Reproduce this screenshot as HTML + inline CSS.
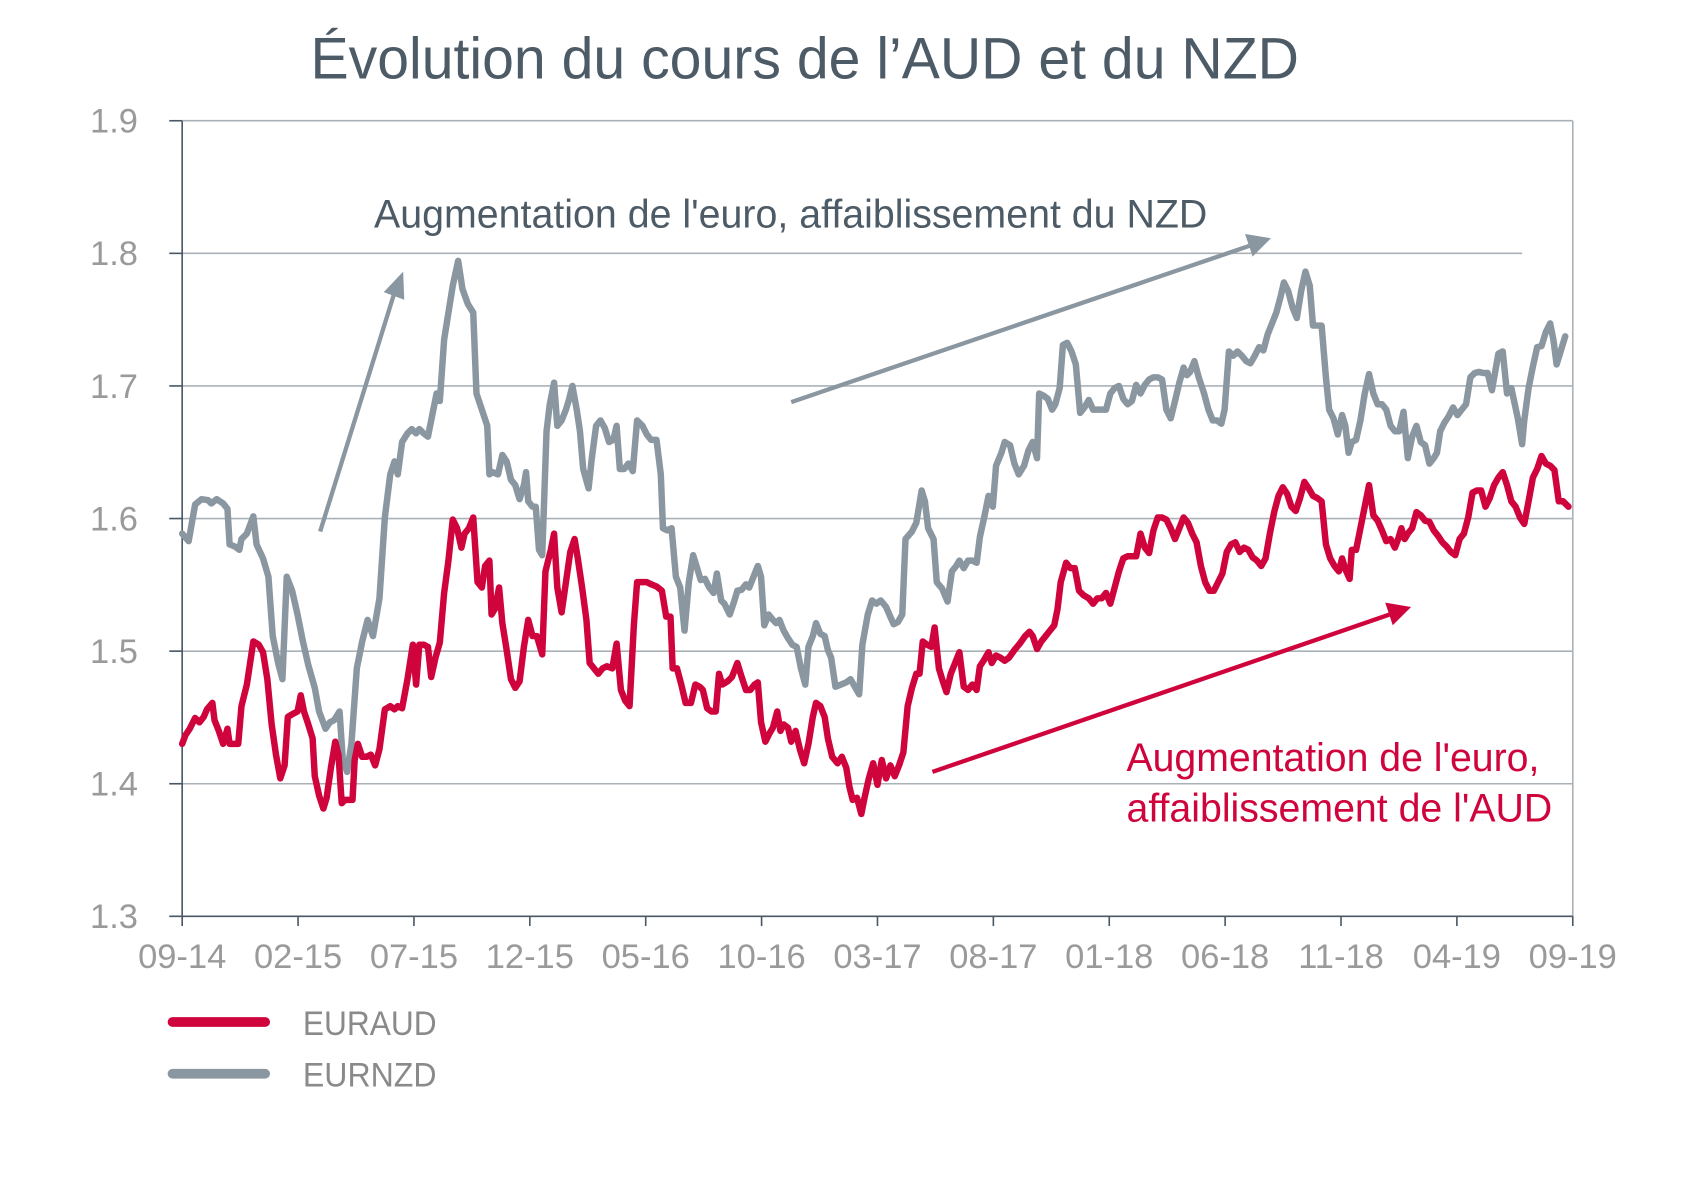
<!DOCTYPE html>
<html><head><meta charset="utf-8"><style>
html,body{margin:0;padding:0;background:#fff;width:1692px;height:1185px;overflow:hidden}
svg{display:block}
text{font-family:"Liberation Sans",sans-serif}
</style></head><body>
<svg width="1692" height="1185" viewBox="0 0 1569.6 1099.2" preserveAspectRatio="none">
<text x="288" y="73" font-size="54" fill="#4d5b67" textLength="917" lengthAdjust="spacingAndGlyphs">Évolution du cours de l’AUD et du NZD</text>
<g stroke="#aab2b8" stroke-width="1.5">
<line x1="169" y1="112" x2="1459" y2="112"/>
<line x1="169" y1="235" x2="1412" y2="235"/>
<line x1="169" y1="358" x2="1459" y2="358"/>
<line x1="169" y1="481" x2="1459" y2="481"/>
<line x1="169" y1="604" x2="1459" y2="604"/>
<line x1="169" y1="727" x2="1459" y2="727"/>
<line x1="1459" y1="112" x2="1459" y2="850"/>
</g>
<g stroke="#4a5866" stroke-width="1.5">
<line x1="169" y1="112" x2="169" y2="850"/>
<line x1="157" y1="850" x2="1459" y2="850"/>
<line x1="157" y1="112" x2="169" y2="112"/><line x1="157" y1="235" x2="169" y2="235"/><line x1="157" y1="358" x2="169" y2="358"/><line x1="157" y1="481" x2="169" y2="481"/><line x1="157" y1="604" x2="169" y2="604"/><line x1="157" y1="727" x2="169" y2="727"/>
<line x1="169" y1="850" x2="169" y2="859"/><line x1="276.5" y1="850" x2="276.5" y2="859"/><line x1="384" y1="850" x2="384" y2="859"/><line x1="491.5" y1="850" x2="491.5" y2="859"/><line x1="599" y1="850" x2="599" y2="859"/><line x1="706.5" y1="850" x2="706.5" y2="859"/><line x1="814" y1="850" x2="814" y2="859"/><line x1="921.5" y1="850" x2="921.5" y2="859"/><line x1="1029" y1="850" x2="1029" y2="859"/><line x1="1136.5" y1="850" x2="1136.5" y2="859"/><line x1="1244" y1="850" x2="1244" y2="859"/><line x1="1351.5" y1="850" x2="1351.5" y2="859"/><line x1="1459" y1="850" x2="1459" y2="859"/>
</g>
<g font-size="32" fill="#9a9a9a" text-anchor="end">
<text x="128" y="123">1.9</text><text x="128" y="246">1.8</text><text x="128" y="369">1.7</text><text x="128" y="492">1.6</text><text x="128" y="615">1.5</text><text x="128" y="738">1.4</text><text x="128" y="861">1.3</text>
</g>
<g font-size="32" fill="#9a9a9a" text-anchor="middle">
<text x="169" y="898">09-14</text><text x="276.5" y="898">02-15</text><text x="384" y="898">07-15</text><text x="491.5" y="898">12-15</text><text x="599" y="898">05-16</text><text x="706.5" y="898">10-16</text><text x="814" y="898">03-17</text><text x="921.5" y="898">08-17</text><text x="1029" y="898">01-18</text><text x="1136.5" y="898">06-18</text><text x="1244" y="898">11-18</text><text x="1351.5" y="898">04-19</text><text x="1459" y="898">09-19</text>
</g>
<g stroke-width="6" fill="none" stroke-linejoin="round" stroke-linecap="round">
<polyline stroke="#8a96a0" points="169,495 175,502 181,468 187,463 193,464 196,467 201,463 207,467 211,472 213,505 218,507 222,510 224,500 229,495 235,479 238,505 244,518 249,535 253,590 258,615 262,630 266,535 271,548 276,570 281,595 286,617 292,638 296,660 302,676 306,670 310,668 315,660 318,705 322,716 326,690 331,620 336,595 341,575 346,590 352,555 357,480 362,440 366,428 369,440 373,410 378,402 382,398 386,402 389,398 393,402 397,405 402,380 405,365 408,372 412,315 416,290 420,265 425,242 429,268 434,282 439,290 442,365 447,380 452,395 454,440 457,438 462,440 466,422 470,428 474,445 478,450 482,463 486,450 488,438 490,465 494,470 497,470 500,510 503,515 507,400 510,375 514,355 517,395 521,390 525,380 528,370 531,358 535,380 538,400 541,435 546,453 549,425 553,395 557,390 561,397 565,410 569,408 572,395 575,435 579,435 583,430 587,437 591,390 596,395 600,403 604,408 609,408 613,440 615,490 619,492 623,490 627,535 631,545 635,585 639,540 643,515 647,528 650,538 654,537 658,545 662,550 665,532 669,557 672,560 677,570 681,558 684,548 688,547 692,542 695,545 699,535 703,525 706,535 709,580 713,570 717,575 720,578 723,575 727,585 731,592 735,598 739,600 743,620 747,635 750,600 754,590 757,578 761,588 765,590 768,603 771,610 775,637 780,635 785,633 789,630 793,637 797,644 800,598 805,570 809,557 813,560 817,557 822,563 825,570 829,579 833,577 837,570 840,500 846,493 850,485 855,455 858,465 861,490 866,500 869,540 874,546 879,558 883,530 887,525 890,520 894,527 898,520 902,520 906,522 909,498 913,480 917,460 921,470 924,432 929,420 932,410 937,413 941,430 945,440 950,432 954,418 958,410 962,425 964,365 968,367 972,370 976,380 979,375 983,360 986,320 990,318 994,326 998,338 1002,383 1006,378 1010,371 1014,380 1018,380 1022,380 1026,380 1030,365 1034,360 1038,358 1042,370 1046,375 1050,372 1054,357 1058,365 1062,357 1066,352 1070,350 1074,350 1078,352 1082,380 1086,388 1090,372 1094,355 1098,341 1101,348 1104,345 1108,335 1112,350 1117,365 1121,380 1125,390 1129,390 1133,393 1136,380 1140,326 1144,330 1148,326 1152,330 1156,335 1160,337 1164,330 1168,322 1172,325 1176,310 1180,300 1184,290 1188,275 1191,262 1195,270 1199,285 1203,295 1207,270 1211,252 1215,265 1218,302 1222,302 1226,302 1230,350 1233,380 1237,388 1241,403 1245,385 1248,395 1251,420 1254,410 1258,408 1262,390 1266,365 1270,347 1274,365 1278,375 1282,375 1286,380 1290,395 1294,400 1298,400 1302,382 1306,425 1310,405 1314,395 1318,410 1322,413 1326,430 1330,425 1333,420 1336,400 1340,392 1344,386 1348,378 1352,385 1356,380 1360,375 1364,350 1368,346 1372,345 1376,346 1380,346 1384,362 1387,345 1390,328 1394,326 1398,365 1402,360 1405,374 1408,388 1412,412 1414,390 1418,360 1422,340 1426,322 1430,321 1434,308 1438,300 1441,315 1444,338 1448,325 1452,312"/>
<polyline stroke="#d0043c" points="169,690 172,682 176,676 181,666 185,670 189,665 192,658 197,652 199,668 203,678 207,690 211,676 213,690 218,690 221,690 224,655 229,635 235,595 240,598 244,605 248,630 252,672 256,700 260,722 264,710 267,665 272,662 276,660 279,645 282,660 286,672 290,685 292,720 296,738 300,750 303,740 307,712 311,688 314,700 317,745 320,742 323,742 327,742 329,705 332,690 336,702 340,702 344,700 348,710 352,695 357,658 362,655 366,658 369,655 373,657 378,630 383,598 386,635 389,598 393,598 397,600 400,628 404,610 408,596 412,550 416,520 420,482 424,490 428,508 431,495 435,490 439,480 443,540 447,545 450,525 454,520 456,570 459,565 463,545 466,578 470,603 474,630 478,638 482,632 486,600 490,575 494,590 498,590 503,607 506,530 511,510 514,495 517,545 521,568 525,540 529,512 533,500 536,518 540,545 544,575 547,615 551,620 555,625 559,620 563,618 568,620 572,597 576,640 580,650 584,655 588,580 591,540 596,540 600,540 604,542 609,544 614,548 618,572 622,572 624,620 628,620 632,635 636,652 641,652 645,635 649,637 652,640 656,657 660,660 664,660 667,625 670,635 675,632 679,628 684,615 688,628 692,640 696,640 700,635 703,633 706,670 710,688 714,680 717,675 721,660 724,678 727,672 731,675 734,688 738,678 742,695 746,708 750,690 754,665 757,652 761,655 765,665 768,685 772,702 777,708 781,702 785,712 788,730 791,742 795,740 799,755 802,740 806,722 810,708 814,728 818,705 822,722 826,710 830,720 834,710 838,698 842,655 846,638 850,625 853,625 856,595 860,598 864,600 867,582 871,620 874,630 878,642 882,625 886,615 890,605 894,637 898,640 902,635 906,640 909,618 913,612 917,605 920,615 924,608 928,610 932,613 936,610 941,603 946,597 951,590 955,586 958,590 962,602 966,595 970,590 974,585 978,580 981,565 984,540 989,522 993,527 997,527 1001,548 1005,552 1010,555 1014,560 1018,555 1022,555 1026,550 1030,560 1034,545 1038,530 1042,518 1046,516 1050,516 1054,516 1058,495 1062,508 1066,513 1070,492 1074,480 1078,480 1082,482 1086,490 1090,500 1094,490 1098,480 1102,485 1106,495 1110,503 1114,525 1118,540 1122,548 1126,548 1130,540 1134,532 1138,512 1142,505 1146,503 1150,512 1154,508 1158,510 1162,517 1166,520 1170,525 1174,518 1178,495 1182,475 1186,460 1190,452 1194,458 1198,470 1202,474 1206,462 1210,447 1214,453 1218,460 1222,462 1226,465 1230,505 1234,518 1238,525 1242,530 1245,518 1248,528 1252,537 1254,510 1258,510 1262,490 1266,470 1270,450 1274,478 1278,483 1282,492 1286,502 1290,500 1294,508 1297,500 1300,490 1303,500 1306,495 1310,490 1314,475 1318,478 1322,483 1326,484 1330,492 1334,497 1338,503 1342,507 1346,512 1350,515 1354,500 1358,495 1362,480 1366,457 1370,455 1374,455 1378,470 1382,462 1386,450 1390,443 1394,438 1398,450 1402,465 1406,470 1410,480 1414,486 1418,465 1422,443 1426,435 1430,423 1434,430 1438,432 1442,436 1446,465 1450,465 1455,470"/>
</g>
<g stroke-width="4" fill="none">
<line x1="297" y1="493" x2="367" y2="268" stroke="#8a96a0"/>
<line x1="734" y1="373" x2="1165" y2="226" stroke="#8a96a0"/>
<line x1="865" y1="716" x2="1295" y2="568" stroke="#d0043c"/>
</g>
<polygon points="374,252 375,278 356,271" fill="#8a96a0"/>
<polygon points="1179,221 1162,238 1155,217" fill="#8a96a0"/>
<polygon points="1309,563 1292,580 1285,559" fill="#d0043c"/>
<text x="347" y="211" font-size="37" fill="#4d5b67" textLength="773" lengthAdjust="spacingAndGlyphs">Augmentation de l'euro, affaiblissement du NZD</text>
<text x="1045" y="715" font-size="37" fill="#d0043c" textLength="383" lengthAdjust="spacingAndGlyphs">Augmentation de l'euro,</text>
<text x="1045" y="762" font-size="37" fill="#d0043c" textLength="395" lengthAdjust="spacingAndGlyphs">affaiblissement de l'AUD</text>
<line x1="160" y1="948" x2="246" y2="948" stroke="#d0043c" stroke-width="9" stroke-linecap="round"/>
<line x1="160" y1="996" x2="246" y2="996" stroke="#8a96a0" stroke-width="9" stroke-linecap="round"/>
<text x="281" y="960" font-size="32" fill="#8a8a8a" textLength="124" lengthAdjust="spacingAndGlyphs">EURAUD</text>
<text x="281" y="1008" font-size="32" fill="#8a8a8a" textLength="124" lengthAdjust="spacingAndGlyphs">EURNZD</text>
</svg>
</body></html>
